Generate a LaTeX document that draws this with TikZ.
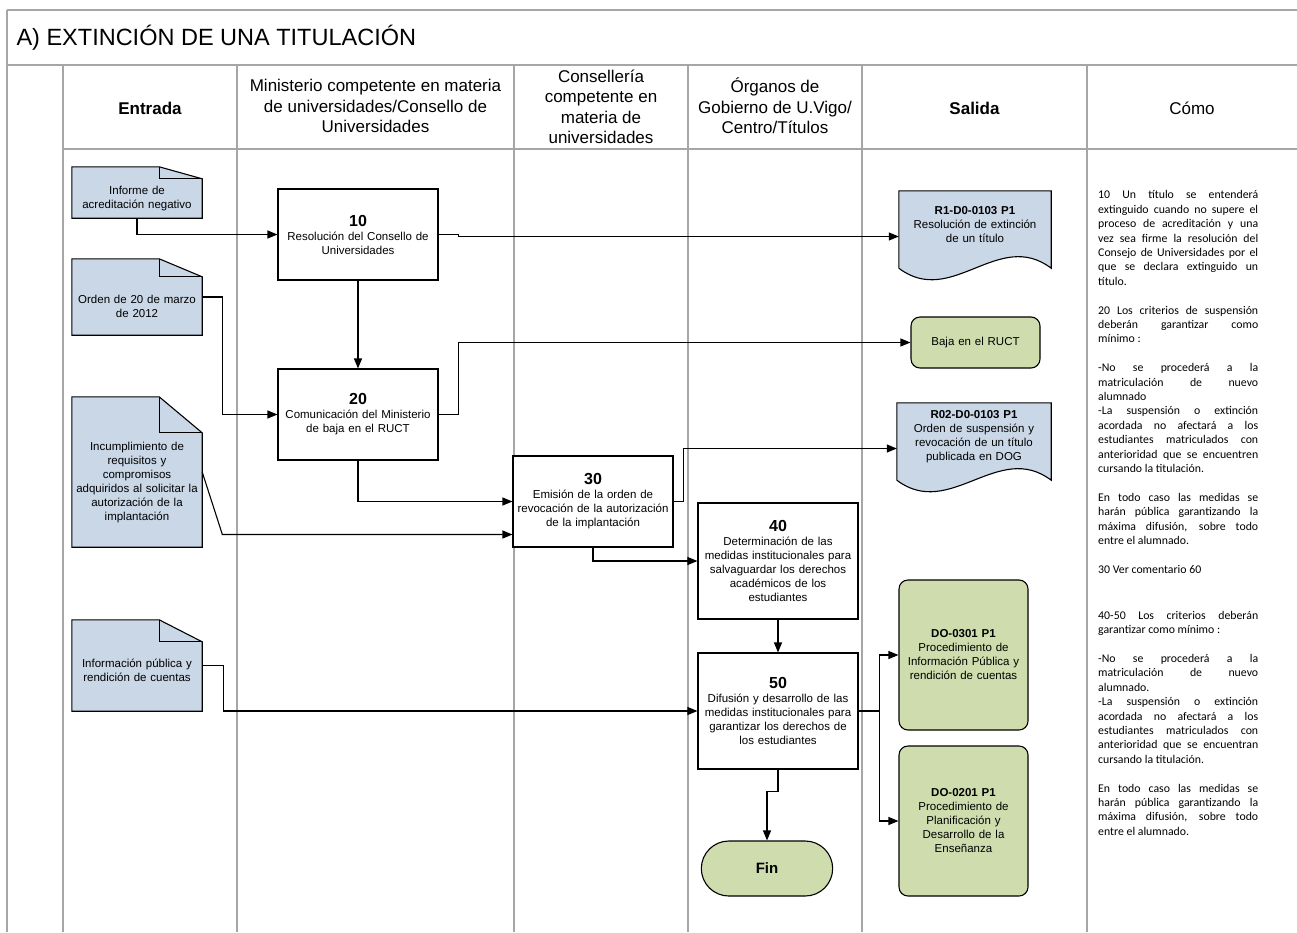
\documentclass[tikz,border=0pt]{standalone}
\usepackage{fontspec}
\setmainfont{Liberation Sans}
\newfontfamily\notefont{Carlito}
\usetikzlibrary{positioning, arrows.meta, shapes.misc, backgrounds}
\setlength\parindent{0pt}
\setlength\parskip{0pt}

\definecolor{docblue}{HTML}{C9D7E7}
\definecolor{outgreen}{HTML}{CFDDAE}
\definecolor{lanegray}{HTML}{A6A6A6}

\newcommand\stepno[1]{{\fontsize{16}{19}\selectfont\bfseries #1}\\}

\begin{document}
\begin{tikzpicture}[x=1pt, y=-1pt,
    lane/.style={draw=lanegray, line width=1.4pt},
    hdr/.style={align=center, font=\fontsize{17}{20.5}\selectfont},
    proc/.style={draw, fill=white, line width=1.1pt, minimum width=160pt, text width=156pt, align=center, inner sep=0pt, font=\fontsize{11.5}{14}\selectfont},
    indoc/.style={minimum width=130pt, text width=128pt, align=center, inner sep=0pt, font=\fontsize{11.5}{14}\selectfont},
    outdoc/.style={minimum width=152pt, minimum height=77pt, text width=148pt, align=center, inner sep=0pt, font=\fontsize{11.5}{14}\selectfont},
    outbox/.style={draw, fill=outgreen, line width=1.1pt, rounded corners=9pt, minimum width=129pt, text width=125pt, align=center, inner sep=0pt, font=\fontsize{11.5}{14}\selectfont},
    flow/.style={line width=1.1pt, -{Triangle[length=10pt,width=8pt]}},
    note/.style={anchor=north west, text width=160pt, align=justify, inner sep=0pt, font=\notefont\fontsize{11.8}{14.4}\selectfont}
    ]
\useasboundingbox (0,0) rectangle (1297,932);

% marco y calles
\draw[lane] (7,10) -- (1297,10);
\draw[lane] (7,65) -- (1297,65);
\draw[lane] (63,149) -- (1297,149);
\draw[lane] (7,10) -- (7,932);
\foreach \x in {63,237,514,688,862,1087}
    \draw[lane] (\x,65) -- (\x,932);

\node[anchor=west, font=\fontsize{23.5}{28}\selectfont] (title) at (13,38) {A) EXTINCIÓN DE UNA TITULACIÓN};

% cabeceras
\node[hdr, font=\fontsize{17}{20.5}\selectfont\bfseries] (hin) at (150,108) {Entrada};
\node[hdr] (hmin) at (375.5,106) {Ministerio competente en materia\\de universidades/Consello de\\Universidades};
\node[hdr] (hcon) at (601,107) {Consellería\\competente en\\materia de\\universidades};
\node[hdr] (horg) at (775,106) {Órganos de\\Gobierno de U.Vigo/\\Centro/Títulos};
\node[hdr, font=\fontsize{17}{20.5}\selectfont\bfseries] (hout) at (974.5,108) {Salida};
\node[hdr] (hcomo) at (1192,108) {Cómo};

% entradas (la regla baja el texto bajo el pliegue)
\node[indoc, minimum height=51pt] (inf) at (137,192.5) {\rule{0pt}{21pt}Informe de\\acreditación negativo};
\node[indoc, minimum height=76pt] (ord) at (137,297) {\rule{0pt}{28pt}Orden de 20 de marzo\\de 2012};
\node[indoc, minimum height=150pt] (inc) at (137,472) {\rule{0pt}{30pt}Incumplimiento de\\requisitos y\\compromisos\\adquiridos al solicitar la\\autorización de la\\implantación};
\node[indoc, minimum height=91pt] (pub) at (137,665.5) {\rule{0pt}{18pt}Información pública y\\rendición de cuentas};

% procesos
\node[proc, minimum height=91pt] (b10) at (358,234.5) {\stepno{10}Resolución del Consello de\\Universidades};
\node[proc, minimum height=91pt] (b20) at (358,414.5) {\stepno{20}Comunicación del Ministerio\\de baja en el RUCT};
\node[proc, minimum height=91pt] (b30) at (593,501.5) {\stepno{30}Emisión de la orden de\\revocación de la autorización\\de la implantación};
\node[proc, minimum height=116pt] (b40) at (778,561) {\stepno{40}Determinación de las\\medidas institucionales para\\salvaguardar los derechos\\académicos de los\\estudiantes};
\node[proc, minimum height=116pt] (b50) at (778,711) {\stepno{50}Difusión y desarrollo de las\\medidas institucionales para\\garantizar los derechos de\\los estudiantes};
\node[draw, fill=outgreen, line width=1.1pt, rounded rectangle, minimum width=138pt, minimum height=55pt, font=\fontsize{15}{18}\selectfont\bfseries] (fin) at (767,868.5) {Fin};

% salidas
\node[outdoc] (r1) at (975,229.5) {\textbf{R1-D0-0103 P1}\\Resolución de extinción\\de un título\rule[-10pt]{0pt}{0pt}};
\node[outbox, minimum height=51pt] (baja) at (975.5,342.5) {Baja en el RUCT};
\node[outdoc, minimum width=154pt] (r02) at (974,441.5) {\textbf{R02-D0-0103 P1}\\Orden de suspensión y\\revocación de un título\\publicada en DOG\rule[-12pt]{0pt}{0pt}};
\node[outbox, minimum height=150pt] (do1) at (963.5,655) {\textbf{DO-0301 P1}\\Procedimiento de\\Información Pública y\\rendición de cuentas};
\node[outbox, minimum height=150pt] (do2) at (963.5,821) {\textbf{DO-0201 P1}\\Procedimiento de\\Planificación y\\Desarrollo de la\\Enseñanza};

\begin{scope}[on background layer]
\foreach \n/\f in {inf/12, ord/18, inc/36, pub/22} {
    \draw[line width=1.1pt, fill=docblue] (\n.south west) -- (\n.north west) -- ([xshift=-43pt]\n.north east) -- ([yshift=-\f pt]\n.north east) -- (\n.south east) -- cycle;
    \draw[line width=1.1pt] ([xshift=-43pt]\n.north east) |- ([yshift=-\f pt]\n.north east);
}
\foreach \n in {r1,r02}
    \draw[line width=1.1pt, fill=docblue] (\n.south west) -- (\n.north west) -- (\n.north east) -- (\n.south east) .. controls +(-53,-40) and +(53,40) .. (\n.south west);
\end{scope}

% conectores
\draw[flow] (inf.south) |- (b10.west);
\draw[flow] (ord.east) -- ++(20,0) |- (b20.west);
\draw[flow] (b10.south) -- (b20.north);
\draw[flow] (inc.east) -- ++(20,62) |- ([yshift=-33pt]b30.west);
\draw[flow] (b20.south) |- (b30.west);
\draw[flow] (b10.east) -- ++(20,0) |- ([yshift=-7pt]r1.west);
\draw[flow] (b20.east) -- ++(20,0) |- (baja.west);
\draw[flow] (b30.east) -- ++(10,0) |- ([yshift=-7pt]r02.west);
\draw[flow] (b30.south) |- (b40.west);
\draw[flow] (b40.south) -- (b50.north);
\draw[flow] (pub.east) -- ++(21,0) |- (b50.west);
\draw[flow] (b50.east) -- ++(21,0) |- (do1.west);
\draw[flow] (b50.east) -- ++(21,0) |- (do2.west);
\draw[flow] (b50.south) -- ++(0,22) -| (fin.north);

% comentarios
\node[note] (cmt) at (1098,190.5) {10 Un título se entenderá\linebreak extinguido cuando no supere el\linebreak proceso de acreditación y una\linebreak vez sea firme la resolución del\linebreak Consejo de Universidades por el\linebreak que se declara extinguido un\linebreak título.\par\vspace{14.4pt}
20 Los criterios de suspensión\linebreak deberán garantizar como\linebreak mínimo :\par\vspace{14.4pt}
-No se procederá a la\linebreak matriculación de nuevo\linebreak alumnado\par
-La suspensión o extinción\linebreak acordada no afectará a los\linebreak estudiantes matriculados con\linebreak anterioridad que se encuentren\linebreak cursando la titulación.\par\vspace{14.4pt}
En todo caso las medidas se\linebreak harán pública garantizando la\linebreak máxima difusión, sobre todo\linebreak entre el alumnado.\par\vspace{14.4pt}
30 Ver comentario 60\par\vspace{31.6pt}
40-50 Los criterios deberán\linebreak garantizar como mínimo :\par\vspace{14.4pt}
-No se procederá a la\linebreak matriculación de nuevo\linebreak alumnado.\par
-La suspensión o extinción\linebreak acordada no afectará a los\linebreak estudiantes matriculados con\linebreak anterioridad que se encuentran\linebreak cursando la titulación.\par\vspace{14.4pt}
En todo caso las medidas se\linebreak harán pública garantizando la\linebreak máxima difusión, sobre todo\linebreak entre el alumnado.};
\end{tikzpicture}
\end{document}
